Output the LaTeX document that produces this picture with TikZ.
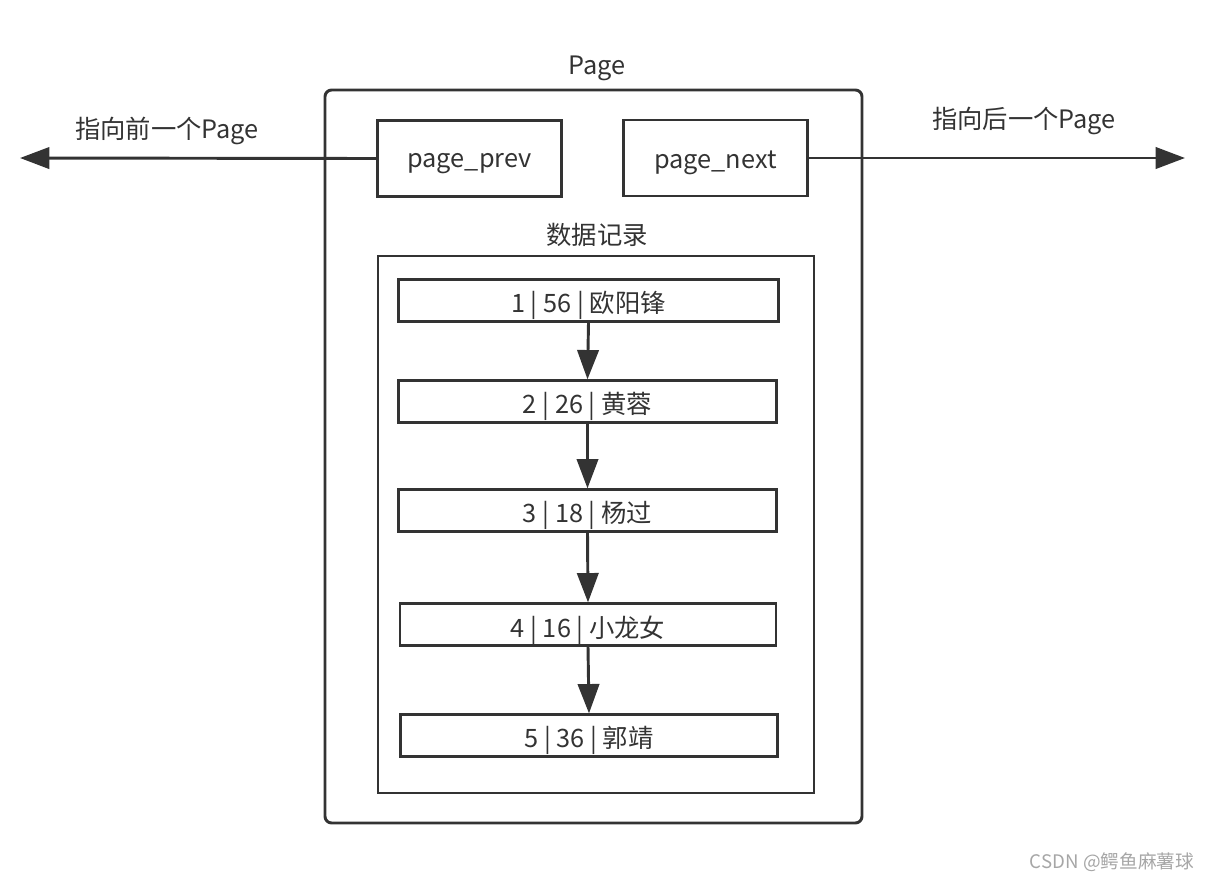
\documentclass[tikz,border=0pt]{standalone}
\usepackage{fontspec}
\setmainfont{Noto Sans CJK SC}
\usetikzlibrary{arrows.meta}
\definecolor{ln}{HTML}{333333}
\begin{document}
\begin{tikzpicture}[x=0.75pt,y=-0.75pt,
  rec/.style={draw=ln,line width=2.2pt,minimum height=31pt},
  lbl/.style={font=\fontsize{19}{22}\selectfont,text=ln},
  in/.style={label={[lbl,yshift=-4pt]center:#1}},
  arr/.style={draw=ln,line width=2.2pt,-{Triangle[length=22pt,width=16pt]}}]
\useasboundingbox (0,0) rectangle (1221,883);
\draw[ln,line width=2.2pt,rounded corners=5pt] (325,90) rectangle (862,823);
\node[lbl] (pg) at (597,68) {Page};
\node[rec,minimum width=138pt,minimum height=57pt,in={page\_prev}] (prev) at (469.5,158.5) {};
\node[rec,minimum width=138pt,minimum height=57pt,in={page\_next}] (next) at (715.5,158) {};
\coordinate (L) at (20,158);
\coordinate (R) at (1185,158);
\draw[arr] (prev.west) -- (L);
\draw[arr] (next.east) -- (R);
\node[lbl] (lt) at (167,131) {指向前一个Page};
\node[lbl] (rt) at (1024,121) {指向后一个Page};
\node[lbl] (dr) at (597,235) {数据记录};
\draw[ln,line width=2.2pt] (378,256) rectangle (814,793);
\node[rec,minimum width=285pt,in={1 | 56 | 欧阳锋}] (r1) at (588.5,300.5) {};
\node[rec,minimum width=284pt,in={2 | 26 | 黄蓉}] (r2) at (587.5,401.5) {};
\node[rec,minimum width=284pt,in={3 | 18 | 杨过}] (r3) at (587.5,510.5) {};
\node[rec,minimum width=282pt,in={4 | 16 | 小龙女}] (r4) at (588,624.5) {};
\node[rec,minimum width=283pt,in={5 | 36 | 郭靖}] (r5) at (589,735.5) {};
\draw[arr] (r1.south) -- (r2.north);
\draw[arr] (r2.south) -- (r3.north);
\draw[arr] (r3.south) -- (r4.north);
\draw[arr] (r4.south) -- (r5.north);
\node[font=\fontsize{14}{16}\selectfont,text=gray!70] (wm) at (1112,862) {CSDN @鳄鱼麻薯球};
\end{tikzpicture}
\end{document}
